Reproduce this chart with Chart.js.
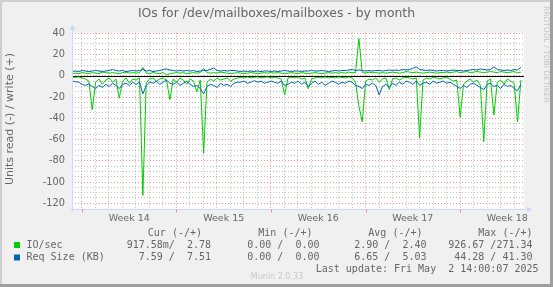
<!DOCTYPE html>
<html>
<head>
<meta charset="utf-8">
<script src="https://cdn.jsdelivr.net/npm/chart.js@4.4.0/dist/chart.umd.min.js"></script>
<style>
  html, body { margin: 0; padding: 0; background: #f0f0f0; }
  canvas { display: block; }
</style>
</head>
<body>
<canvas id="chart" width="553" height="287"></canvas>
<script>
// Munin month graph, one sample every 6 hours.
// Time is in days from Mon 31 Mar 2025 00:00 (start of week 14).
const sampleStart = -0.74;
const sampleStep = 0.25;
const weekLabels = ["Week 14", "Week 15", "Week 16", "Week 17", "Week 18"];
const weekStarts = [0, 7, 14, 21, 28];

// read values are drawn below zero, write values above
const ioRead = [
    1, 1.5, 1, 2, 3, 5, 32, 6, 3, 8,
    4, 2, 6, 3, 21, 5, 2, 7, 3, 4,
    2, 112.5, 6, 3, 2, 5, 3, 2, 4, 22.5,
    3, 6, 2, 4, 8, 3, 5, 15, 4, 73,
    6, 3, 5, 2, 4, 3, 2, 5, 3, 2,
    1.5, 2, 1, 2, 1.5, 1, 2, 1.5, 1, 2,
    1.5, 2, 3, 18, 2, 1.5, 2, 1, 3, 2,
    12, 3, 2, 1.5, 2, 1, 2, 1.5, 2, 1,
    1.5, 2, 1, 2, 6, 28.5, 43.5, 5, 3, 4,
    2, 6, 3, 2, 13, 3, 2, 4, 2, 1.5,
    2, 3, 2, 58.5, 4, 2, 3, 1.5, 2, 3,
    2, 1.5, 3, 5, 4, 39, 8, 5, 3, 6,
    4, 9, 62, 5, 3, 37, 6, 4, 8, 3,
    5, 7, 43.5, 4
];
const ioWrite = [
    2, 2.5, 2, 3, 2.5, 2, 3, 2.5, 2, 3.5,
    3, 2.5, 3, 2.5, 2, 3, 3.5, 2.5, 3, 2.5,
    3, 8, 2.5, 2, 3, 2.5, 2, 3, 1, 2,
    2.5, 3, 2.5, 3, 2, 2.5, 3, 2.5, 3, 7,
    3, 2.5, 3, 2.5, 3.5, 3, 2.5, 2, 2.5, 3,
    2.5, 2, 2.5, 3, 2.5, 2, 2.5, 3, 2.5, 3,
    2.5, 3, 2.5, 2, 2.5, 3, 2.5, 2, 3, 2.5,
    2, 2.5, 3, 2.5, 2, 2.5, 3, 2.5, 3, 2.5,
    3, 2.5, 3.5, 3, 3, 35, 3, 2.5, 3.5, 3,
    3, 2.5, 3, 2.5, 3, 3.5, 3, 2.5, 3, 4,
    3.5, 3, 3.5, 3, 2.5, 3, 3.5, 3, 2.5, 3,
    3, 3.5, 3, 3.5, 4, 3, 3.5, 4, 3, 3.5,
    4, 3.5, 3, 3.5, 4, 3.5, 3, 4, 3.5, 3,
    3.5, 4, 3, 3.5
];
const reqRead = [
    5, 5.5, 6, 8, 9, 7.5, 10, 12, 9, 11,
    8, 10, 7, 9, 12, 8, 7, 9, 6, 8,
    6, 17, 9, 6, 7, 5, 8, 6, 4, 7,
    8, 6, 9, 7, 5, 8, 10, 9, 12, 17,
    10, 8, 9, 11, 7, 9, 8, 10, 7, 6,
    6, 5, 7, 6, 4.5, 6, 5, 7, 6, 5,
    6, 7, 5, 9, 8, 6, 7, 5, 8, 6,
    10, 7, 5, 8, 6, 9, 7, 5, 6, 8,
    6, 7, 5, 6, 9, 10, 12, 8, 9, 7,
    9, 18, 10, 8, 11, 7, 9, 6, 8, 5,
    6, 8, 5, 9, 7, 6, 8, 5, 7, 6,
    5, 7, 6, 8, 10, 12, 9, 11, 8, 7,
    9, 11, 13, 8, 7, 10, 9, 12, 8, 10,
    9, 12, 14, 8
];
const reqWrite = [
    4, 4.5, 4, 5, 4.5, 4, 4.5, 5, 4.5, 4,
    4.5, 5, 6, 5, 4.5, 5, 4, 4.5, 5, 4.5,
    5, 6, 4.5, 5, 4, 4.5, 5, 6, 6.5, 5.5,
    5, 4.5, 5, 4.5, 5, 4.5, 5, 4, 4.5, 5,
    5, 6, 7.5, 5, 4.5, 5, 4.5, 5, 5, 4.5,
    4, 4.5, 4, 4.5, 4, 4.5, 4, 4.5, 4.5, 4,
    4.5, 4, 4.5, 5, 4.5, 4, 4.5, 4.5, 4, 4.5,
    4.5, 5, 4.5, 4.5, 5, 4.5, 4, 4.5, 5, 4.5,
    5, 5, 5.5, 6, 5, 5.5, 5, 4.5, 5, 4.5,
    5, 5, 4.5, 5, 5.5, 5, 5.5, 5, 6, 5.5,
    6, 7, 8.5, 6, 5.5, 5, 5.5, 5, 4.5, 5,
    5, 4.5, 5, 5.5, 5, 5, 4.5, 5, 5.5, 6,
    5.5, 6.5, 6, 5.5, 6, 8.5, 6, 5.5, 5, 5.5,
    5, 6, 5.5, 8
];

const legendHeader = ["Cur (-/+)", "Min (-/+)", "Avg (-/+)", "Max (-/+)"];
const ioStats = ["917.58m/  2.78", "0.00 /  0.00", "2.90 /  2.40", "926.67 /271.34"];
const reqStats = ["7.59 /  7.51", "0.00 /  0.00", "6.65 /  5.03", "44.28 / 41.30"];

const GREEN = "#00cc00";
const BLUE = "#0066b3";
const TEXT = "#666666";
const AXIS = "#cfd6f8";
const MGRID = "rgba(230, 60, 60, 0.55)";
const GRID = "rgba(130, 130, 130, 0.5)";

const toPoints = (values, sign) => values.map((v, i) => ({ x: sampleStart + i * sampleStep, y: sign * v }));

const isStep = (v, step) => Math.abs(v / step - Math.round(v / step)) < 1e-6;

const muninFrame = {
    id: "muninFrame",
    beforeDraw(chart) {
        const { ctx, chartArea: a } = chart;
        ctx.save();
        ctx.fillStyle = "#f0f0f0";
        ctx.fillRect(0, 0, 553, 287);
        // 3d border
        ctx.fillStyle = "#cfcfcf";
        ctx.fillRect(0, 0, 553, 2);
        ctx.fillRect(0, 0, 2, 287);
        ctx.fillStyle = "#9e9e9e";
        ctx.fillRect(550, 0, 3, 287);
        ctx.fillRect(0, 284, 553, 3);
        ctx.fillStyle = "#ffffff";
        ctx.fillRect(a.left, a.top, a.right - a.left, a.bottom - a.top);
        ctx.restore();
    },
    beforeDatasetsDraw(chart) {
        const { ctx, chartArea: a } = chart;
        const y0 = Math.round(chart.scales.y.getPixelForValue(0)) + 0.5;
        ctx.save();
        ctx.strokeStyle = "#000000";
        ctx.lineWidth = 1;
        ctx.beginPath();
        ctx.moveTo(a.left, y0);
        ctx.lineTo(a.right, y0);
        ctx.stroke();
        ctx.restore();
    },
    afterDraw(chart) {
        const { ctx, chartArea: a } = chart;
        const xs = chart.scales.x;
        ctx.save();

        // axes with arrows
        const ax = Math.round(a.left) + 0.5;
        const ay = Math.round(a.bottom) + 0.5;
        ctx.strokeStyle = AXIS;
        ctx.fillStyle = AXIS;
        ctx.lineWidth = 1;
        ctx.beginPath();
        ctx.moveTo(ax, ay + 2);
        ctx.lineTo(ax, a.top - 3);
        ctx.moveTo(ax - 2, ay);
        ctx.lineTo(a.right + 3, ay);
        ctx.stroke();
        ctx.beginPath();
        ctx.moveTo(ax - 3, a.top - 3);
        ctx.lineTo(ax + 3, a.top - 3);
        ctx.lineTo(ax, a.top - 8);
        ctx.closePath();
        ctx.fill();
        ctx.beginPath();
        ctx.moveTo(a.right + 3, ay - 3);
        ctx.lineTo(a.right + 3, ay + 3);
        ctx.lineTo(a.right + 8, ay);
        ctx.closePath();
        ctx.fill();

        // week ticks below the axis
        ctx.strokeStyle = MGRID;
        weekStarts.forEach(d => {
            const px = Math.round(xs.getPixelForValue(d)) + 0.5;
            ctx.beginPath();
            ctx.moveTo(px, ay);
            ctx.lineTo(px, ay + 3);
            ctx.stroke();
        });

        // title
        ctx.fillStyle = TEXT;
        ctx.font = "12.4px 'DejaVu Sans'";
        ctx.textAlign = "center";
        ctx.textBaseline = "middle";
        ctx.fillText("IOs for /dev/mailboxes/mailboxes - by month", 276.5, 13.5);

        // vertical axis title
        ctx.save();
        ctx.translate(10.5, 119);
        ctx.rotate(-Math.PI / 2);
        ctx.font = "11px 'DejaVu Sans'";
        ctx.fillText("Units read (-) / write (+)", 0, 0);
        ctx.restore();

        // watermark on the right
        ctx.save();
        ctx.translate(545.5, 6);
        ctx.rotate(Math.PI / 2);
        ctx.font = "7.5px 'DejaVu Sans'";
        ctx.fillStyle = "#c4c4c4";
        ctx.textAlign = "left";
        ctx.fillText("RRDTOOL / TOBI OETIKER", 0, 0);
        ctx.restore();

        // legend
        ctx.font = "10px 'DejaVu Sans Mono'";
        ctx.fillStyle = TEXT;
        ctx.textAlign = "right";
        const headRight = [202, 312.5, 422.5, 532.5];
        const valRight = [211, 319.5, 426.5, 532.5];
        legendHeader.forEach((t, i) => ctx.fillText(t, headRight[i], 233));
        ioStats.forEach((t, i) => ctx.fillText(t, valRight[i], 245));
        reqStats.forEach((t, i) => ctx.fillText(t, valRight[i], 257.3));
        ctx.fillText("Last update: Fri May  2 14:00:07 2025", 538.5, 269.7);
        ctx.textAlign = "left";
        ctx.fillText("IO/sec", 26.5, 245);
        ctx.fillText("Req Size (KB)", 26.5, 257.3);
        ctx.fillStyle = GREEN;
        ctx.fillRect(14, 242, 6, 6);
        ctx.fillStyle = BLUE;
        ctx.fillRect(14, 254.5, 6, 6);

        ctx.fillStyle = "#c8c8c8";
        ctx.font = "8px 'DejaVu Sans'";
        ctx.textAlign = "center";
        ctx.fillText("Munin 2.0.33", 277, 277);
        ctx.restore();
    }
};

new Chart(document.getElementById("chart"), {
    type: "line",
    data: {
        datasets: [
            { label: "Req Size write", data: toPoints(reqWrite, 1), borderColor: BLUE },
            { label: "Req Size read", data: toPoints(reqRead, -1), borderColor: BLUE },
            { label: "IO/sec write", data: toPoints(ioWrite, 1), borderColor: GREEN },
            { label: "IO/sec read", data: toPoints(ioRead, -1), borderColor: GREEN }
        ]
    },
    options: {
        responsive: false,
        animation: false,
        events: [],
        layout: { padding: { left: 0, right: 29, top: 32.8, bottom: 58.4 } },
        elements: {
            line: { borderWidth: 1, tension: 0 },
            point: { radius: 0 }
        },
        plugins: {
            legend: { display: false },
            title: { display: false },
            tooltip: { enabled: false }
        },
        scales: {
            x: {
                type: "linear",
                min: -0.74,
                max: 32.74,
                afterFit: s => { s.height = 20; },
                afterBuildTicks: s => {
                    const ticks = [];
                    for (let v = -0.5; v <= 32.5; v += 0.5) ticks.push({ value: v });
                    s.ticks = ticks;
                },
                ticks: {
                    autoSkip: false,
                    maxRotation: 0,
                    padding: 4,
                    color: TEXT,
                    font: { family: "'DejaVu Sans'", size: 9.5 },
                    callback: v => {
                        const k = (v - 3.5) / 7;
                        return isStep(k, 1) && weekLabels[Math.round(k)] ? weekLabels[Math.round(k)] : "";
                    }
                },
                grid: {
                    drawTicks: false,
                    lineWidth: 1,
                    color: c => {
                        const v = c.tick ? c.tick.value : 0.5;
                        if (!isStep(v, 1)) return "rgba(0,0,0,0)";
                        return isStep(v, 7) ? MGRID : GRID;
                    }
                },
                border: { display: false, dash: [1, 2] }
            },
            y: {
                min: -125,
                max: 40.5,
                afterFit: s => { s.width = 72; },
                afterBuildTicks: s => {
                    const ticks = [];
                    for (let v = -125; v <= 40; v += 5) ticks.push({ value: v });
                    s.ticks = ticks;
                },
                ticks: {
                    autoSkip: false,
                    padding: 7,
                    color: TEXT,
                    font: { family: "'DejaVu Sans'", size: 9.8 },
                    callback: v => (isStep(v, 20) ? String(v) : "")
                },
                grid: {
                    drawTicks: false,
                    lineWidth: 1,
                    color: c => {
                        const v = c.tick ? c.tick.value : -125;
                        if (v === -125) return "rgba(0,0,0,0)";
                        return isStep(v, 20) ? MGRID : GRID;
                    }
                },
                border: { display: false, dash: [1, 2] }
            }
        }
    },
    plugins: [muninFrame]
});
</script>
</body>
</html>
